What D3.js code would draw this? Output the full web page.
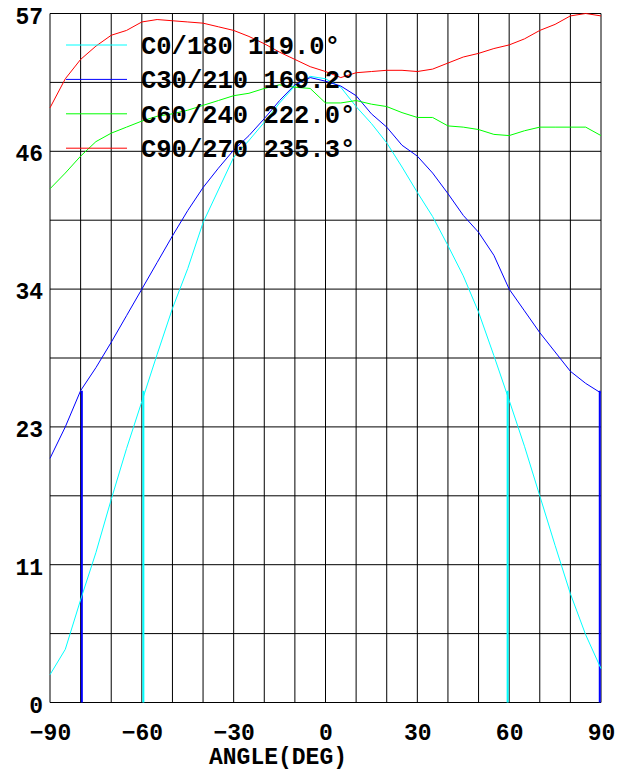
<!DOCTYPE html>
<html>
<head>
<meta charset="utf-8">
<script src="https://cdn.jsdelivr.net/npm/d3@7"></script>
<style>
  body { margin: 0; background: #fff; }
  .chart text { font-family: "Liberation Mono", "Courier New", monospace; font-weight: bold; fill: #000; }
</style>
</head>
<body>
<div class="container"></div>
<script>
var config = {
  width: 630,
  height: 772,
  left: 50,
  top: 13.5,
  plotWidth: 551,
  plotHeight: 689
};

// angles (deg), every 5
var angles = [-90, -85, -80, -75, -70, -65, -60, -55, -50, -45, -40, -35, -30, -25, -20, -15, -10, -5,
  0, 5, 10, 15, 20, 25, 30, 35, 40, 45, 50, 55, 60, 65, 70, 75, 80, 85, 90];

var c0 = [2.3, 4.4, 8.5, 12.4, 16.8, 21.0, 24.9, 28.8, 32.6, 35.9, 39.7, 42.4, 45.1, 46.5, 48.0, 49.6, 51.0, 51.8,
  51.6, 50.9, 49.3, 47.9, 46.3, 44.3, 42.2, 40.2, 37.8, 35.3, 32.3, 28.7, 25.0, 21.2, 17.1, 13.0, 9.0, 5.6, 2.8];
var c30 = [20.2, 22.8, 25.8, 27.7, 29.8, 32.0, 34.2, 36.4, 38.6, 40.7, 42.6, 44.2, 45.7, 46.9, 48.3, 49.8, 51.1, 51.7,
  51.4, 51.0, 50.2, 48.7, 47.6, 46.1, 45.2, 43.8, 42.1, 40.3, 38.9, 37.0, 34.2, 32.4, 30.6, 29.0, 27.4, 26.4, 25.6];
var c60 = [42.5, 43.8, 45.2, 46.4, 47.1, 47.6, 48.1, 48.5, 48.7, 49.0, 49.4, 49.8, 50.2, 50.4, 50.8, 51.1, 50.9, 50.8,
  49.6, 49.6, 49.8, 49.5, 49.3, 48.8, 48.4, 48.4, 47.7, 47.6, 47.4, 47.0, 46.9, 47.3, 47.6, 47.6, 47.6, 47.6, 46.9];
var c90 = [49.2, 51.6, 53.2, 54.3, 55.2, 55.6, 56.3, 56.5, 56.4, 56.3, 56.2, 55.9, 55.6, 55.1, 54.5, 53.8, 53.2, 52.6,
  52.2, 51.7, 52.1, 52.2, 52.3, 52.3, 52.2, 52.4, 52.9, 53.4, 53.7, 54.1, 54.4, 54.9, 55.6, 56.1, 56.8, 57.0, 56.8];

var seriesNames = ['C0/180 119.0°', 'C30/210 169.2°', 'C60/240 222.0°', 'C90/270 235.3°'];
var seriesColors = ['#00ffff', '#0000ff', '#00ff00', '#ff0000'];
var seriesValues = [c0, c30, c60, c90];

// half-intensity markers (angle, height, series index)
var markerAngles = [-79.6, 89.6, -59.5, 59.5];
var markerValues = [25.8, 25.8, 25.8, 25.8];
var markerSeries = [1, 1, 0, 0];

var xTicks = [-90, -60, -30, 0, 30, 60, 90];
var yTicks = [0, 11.4, 22.8, 34.2, 45.6, 57];
var yTickLabels = ['0', '11', '23', '34', '46', '57'];
var yMax = 57;

var x = d3.scaleLinear()
  .domain([-90, 90])
  .range([config.left, config.left + config.plotWidth]);
var y = d3.scaleLinear()
  .domain([0, yMax])
  .range([config.top + config.plotHeight, config.top]);

var svg = d3.select('.container')
  .append('svg')
    .attr('class', 'chart')
    .attr('width', config.width)
    .attr('height', config.height);

// ----------
// grid

svg.append('g')
    .attr('stroke', '#000')
    .attr('stroke-width', 1)
  .selectAll('line.v')
  .data(d3.range(-90, 91, 10))
  .enter().append('line')
    .attr('x1', function(d) { return x(d); })
    .attr('x2', function(d) { return x(d); })
    .attr('y1', y(0))
    .attr('y2', y(yMax));

svg.append('g')
    .attr('stroke', '#000')
    .attr('stroke-width', 1)
  .selectAll('line.h')
  .data(d3.range(0, 11).map(function(k) { return yMax * k / 10; }))
  .enter().append('line')
    .attr('x1', x(-90))
    .attr('x2', x(90))
    .attr('y1', function(d) { return y(d); })
    .attr('y2', function(d) { return y(d); });

// ----------
// axes (labels only)

var yAxis = d3.axisLeft(y)
  .tickValues(yTicks)
  .tickSize(0)
  .tickPadding(0)
  .tickFormat(function(d, i) { return yTickLabels[i]; });

svg.append('g')
    .attr('transform', 'translate(' + (config.left - 7) + ',0)')
    .call(yAxis)
    .call(function(g) { g.select('.domain').remove(); })
  .selectAll('text')
    .attr('font-size', 23)
    .attr('dy', 9.5)
    .style('font-family', '"Liberation Mono", monospace')
    .style('font-weight', 'bold');

var xAxis = d3.axisBottom(x)
  .tickValues(xTicks)
  .tickSize(0)
  .tickPadding(0)
  .tickFormat(d3.format('d'));

svg.append('g')
    .attr('transform', 'translate(0,' + (y(0) + 37) + ')')
    .call(xAxis)
    .call(function(g) { g.select('.domain').remove(); })
  .selectAll('text')
    .attr('font-size', 23)
    .attr('dy', 0)
    .style('font-family', '"Liberation Mono", monospace')
    .style('font-weight', 'bold');

svg.append('text')
    .attr('x', 278)
    .attr('y', 764)
    .attr('text-anchor', 'middle')
    .attr('font-size', 23)
    .text('ANGLE(DEG)');

// ----------
// markers and curves

svg.append('g')
  .selectAll('line')
  .data(markerAngles)
  .enter().append('line')
    .attr('x1', function(d) { return x(d); })
    .attr('x2', function(d) { return x(d); })
    .attr('y1', y(0))
    .attr('y2', function(d, i) { return y(markerValues[i]); })
    .attr('stroke', function(d, i) { return seriesColors[markerSeries[i]]; })
    .attr('stroke-width', 2);

var line = d3.line()
  .x(function(d, i) { return x(angles[i]); })
  .y(function(d) { return y(d); });

svg.append('g')
    .attr('fill', 'none')
  .selectAll('path')
  .data(seriesValues)
  .enter().append('path')
    .attr('stroke', function(d, i) { return seriesColors[i]; })
    .attr('stroke-width', 1)
    .attr('d', line);

// ----------
// legend

var legend = svg.append('g')
  .selectAll('g')
  .data(seriesNames)
  .enter().append('g')
    .attr('transform', function(d, i) { return 'translate(0,' + (45 + i * 34.4) + ')'; });

legend.append('line')
    .attr('x1', 66)
    .attr('x2', 127)
    .attr('stroke', function(d, i) { return seriesColors[i]; })
    .attr('stroke-width', 1);

legend.append('text')
    .attr('x', 141)
    .attr('y', 9)
    .attr('font-size', 25.5)
    .text(function(d) { return d; });
</script>
</body>
</html>
